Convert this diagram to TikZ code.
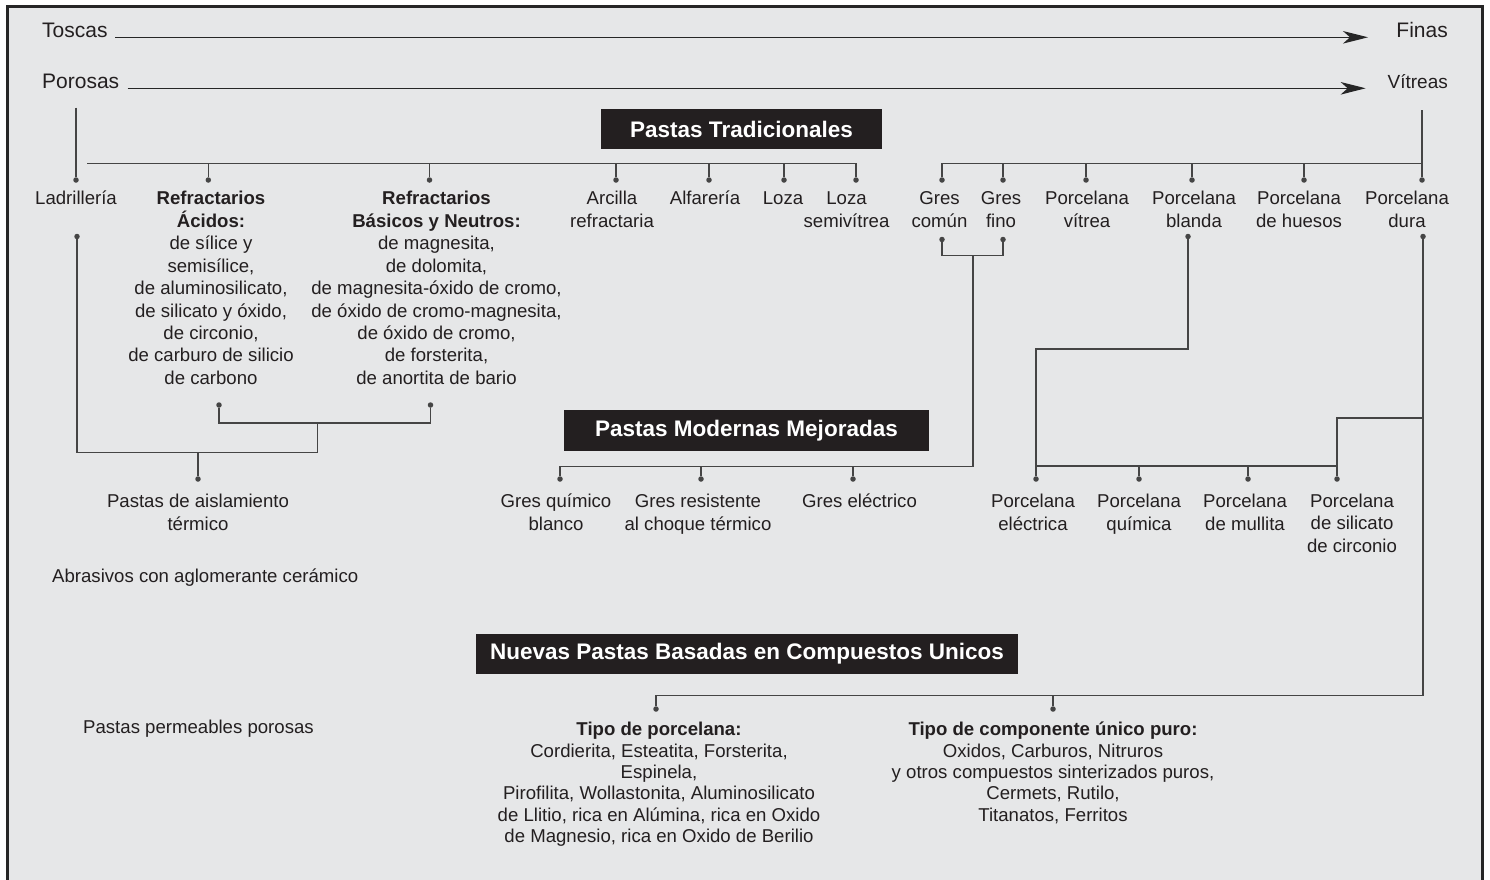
\documentclass[tikz,border=0pt]{standalone}
\usepackage{fontspec}
\setmainfont{Liberation Sans}
\usetikzlibrary{arrows.meta}
\definecolor{bg}{HTML}{E6E7E8}
\definecolor{ln}{HTML}{454545}
\definecolor{boxc}{HTML}{231F20}
\definecolor{txt}{HTML}{231F20}
\newcommand{\fs}{\fontsize{18.6}{22.45}\selectfont}
\newcommand{\fsb}{\fontsize{18.6}{21.3}\selectfont}
\begin{document}
\begin{tikzpicture}[x=1pt,y=-1pt,
  lbl/.style={font=\fs, text=txt, align=center, inner sep=0pt, anchor=base},
  lblb/.style={font=\fsb, text=txt, align=center, inner sep=0pt, anchor=base},
  toplbl/.style={font=\fontsize{21}{24}\selectfont, text=txt, inner sep=0pt},
  ttl/.style={fill=boxc, text=white, font=\fontsize{22.5}{26}\selectfont\bfseries, inner sep=0pt, minimum height=40pt},
  dot/.style={circle, fill=ln, inner sep=0pt, minimum size=5.5pt},
  conn/.style={draw=ln, line width=1.3pt},
  arr/.style={draw=black!85, line width=1.3pt, -{Stealth[length=25pt,width=12.5pt,inset=7pt]}}
]
\useasboundingbox (0,0) rectangle (1490,879);
\clip (0,0) rectangle (1490,879);
\fill[white] (0,0) rectangle (1490,879);
\filldraw[fill=bg, draw=black!85, line width=3pt] (7.5,6.5) rectangle (1482.7,900);

% top scales
\node[toplbl, anchor=base west] (tos) at (42,37) {Toscas};
\node[toplbl, anchor=base east] (fin) at (1448,37) {Finas};
\node[toplbl, anchor=base west] (por) at (42,88) {Porosas};
\node[toplbl, anchor=base east, font=\fontsize{19}{24}\selectfont] (vit) at (1448,88) {Vítreas};
\coordinate (a1s) at (115,37.3); \coordinate (a1e) at (1368,37.3);
\coordinate (a2s) at (127.7,88.3); \coordinate (a2e) at (1365.7,88.3);
\draw[arr] (a1s) -- (a1e);
\draw[arr] (a2s) -- (a2e);

% title boxes
\node[ttl, minimum width=281pt] (t1) at (741.5,129) {Pastas Tradicionales};
\node[ttl, minimum width=365pt, minimum height=41pt] (t2) at (746.5,430.5) {Pastas Modernas Mejoradas};
\node[ttl, minimum width=542pt] (t3) at (747,654) {Nuevas Pastas Basadas en Compuestos Unicos};

% top row labels (anchor = baseline of last line)
\node[lbl] (lad) at (76,204.5) {Ladrillería};
\node[lbl] (rac) at (211,384.4) {\textbf{Refractarios}\\\textbf{Ácidos:}\\de sílice y\\semisílice,\\de aluminosilicato,\\de silicato y óxido,\\de circonio,\\de carburo de silicio\\de carbono};
\node[lbl] (rba) at (436.5,384.4) {\textbf{Refractarios}\\\textbf{Básicos y Neutros:}\\de magnesita,\\de dolomita,\\de magnesita-óxido de cromo,\\de óxido de cromo-magnesita,\\de óxido de cromo,\\de forsterita,\\de anortita de bario};
\node[lbl] (arc) at (612,227) {Arcilla\\refractaria};
\node[lbl] (alf) at (705,204.5) {Alfarería};
\node[lbl] (loz) at (783,204.5) {Loza};
\node[lbl] (lsv) at (846.5,227) {Loza\\semivítrea};
\node[lbl] (grc) at (939.5,227) {Gres\\común};
\node[lbl] (grf) at (1001,227) {Gres\\fino};
\node[lbl] (pvi) at (1087,227) {Porcelana\\vítrea};
\node[lbl] (pbl) at (1194,227) {Porcelana\\blanda};
\node[lbl] (phu) at (1299,227) {Porcelana\\de huesos};
\node[lbl] (pdu) at (1407,227) {Porcelana\\dura};

% lower labels
\node[lbl] (ais) at (198,530) {Pastas de aislamiento\\térmico};
\node[lbl, anchor=base west] (abr) at (52,582) {Abrasivos con aglomerante cerámico};
\node[lbl] (gqb) at (556,530) {Gres químico\\blanco};
\node[lbl] (grt) at (698,530) {Gres resistente\\al choque térmico};
\node[lbl] (gel) at (859.5,507.5) {Gres eléctrico};
\node[lbl] (pel) at (1033,530) {Porcelana\\eléctrica};
\node[lbl] (pqu) at (1139,530) {Porcelana\\química};
\node[lbl] (pmu) at (1245,530) {Porcelana\\de mullita};
\node[lbl] (psc) at (1352,552.4) {Porcelana\\de silicato\\de circonio};
\node[lbl, anchor=base west] (ppp) at (83,733.5) {Pastas permeables porosas};
\node[lblb] (tpo) at (659,842.3) {\textbf{Tipo de porcelana:}\\Cordierita, Esteatita, Forsterita,\\Espinela,\\Pirofilita, Wollastonita, Aluminosilicato\\de Llitio, rica en Alúmina, rica en Oxido\\de Magnesio, rica en Oxido de Berilio};
\node[lblb] (tco) at (1053,821) {\textbf{Tipo de componente único puro:}\\Oxidos, Carburos, Nitruros\\y otros compuestos sinterizados puros,\\Cermets, Rutilo,\\Titanatos, Ferritos};

% top row dots
\foreach \n/\x in {dLad/76, dRA/208.3, dRB/429.5, dArc/616, dAlf/709, dLoz/784, dLS/856, dGC/942, dGF/1003, dPV/1086, dPB/1192, dPH/1304, dPD/1422}
  \node[dot] (\n) at (\x,180) {};

% Tradicionales bars
\coordinate (pv1) at (76,107.5);
\coordinate (pv2) at (1422,110);
\coordinate (b1s) at (87.3,163.3);
\draw[conn] (pv1) -- (dLad);
\draw[conn] (b1s) -| (dLS);
\foreach \n in {dRA,dRB,dArc,dAlf,dLoz}
  \draw[conn] (\n |- b1s) -- (\n);
\draw[conn] (pv2) -- (dPD);
\draw[conn] (dGC) |- (dPD |- b1s);
\foreach \n in {dGF,dPV,dPB,dPH}
  \draw[conn] (\n |- b1s) -- (\n);

% left lower group
\node[dot] (dLad2) at (77,236.5) {};
\node[dot] (dRA2) at (219,405) {};
\node[dot] (dRB2) at (430.5,405) {};
\node[dot] (dAis) at (198,479) {};
\coordinate (jR) at (317.5,423);
\coordinate (jL) at (317.5,452.5);
\draw[conn] (dRA2) |- (jR) -| (dRB2);
\draw[conn] (jR) -- (jL);
\draw[conn] (dLad2) |- (jL);
\draw[conn] (dAis) -- (dAis |- jL);

% gres group
\node[dot] (dGC2) at (942,239.5) {};
\node[dot] (dGF2) at (1003,239.5) {};
\coordinate (jG) at (973,255.5);
\coordinate (jG2) at (973,466.5);
\node[dot] (dGQ) at (560,479) {};
\node[dot] (dGR) at (701,479) {};
\node[dot] (dGE) at (853,479) {};
\draw[conn] (dGC2) |- (jG) -| (dGF2);
\draw[conn] (jG) -- (jG2) -| (dGQ);
\draw[conn] (dGR) -- (dGR |- jG2);
\draw[conn] (dGE) -- (dGE |- jG2);

% porcelana group
\node[dot] (dPB2) at (1188,236.5) {};
\node[dot] (dPD2) at (1423,236.5) {};
\coordinate (jB) at (1036,349);
\node[dot] (dPE) at (1036,479) {};
\node[dot] (dPQ) at (1139,479) {};
\node[dot] (dPM) at (1248,479) {};
\node[dot] (dPS) at (1337,479) {};
\coordinate (jP) at (1337,466);
\coordinate (jD) at (1423,418);
\coordinate (jD2) at (1423,695.5);
\draw[conn] (dPB2) |- (jB) -- (dPE);
\draw[conn] (dPE |- jP) -- (jP);
\draw[conn] (dPQ) -- (dPQ |- jP);
\draw[conn] (dPM) -- (dPM |- jP);
\draw[conn] (dPD2) -- (jD2);
\draw[conn] (jD) -| (dPS);

% nuevas group
\node[dot] (dTP) at (656,709) {};
\node[dot] (dTC) at (1053,709) {};
\draw[conn] (jD2) -| (dTP);
\draw[conn] (dTC) -- (dTC |- jD2);
\end{tikzpicture}
\end{document}
